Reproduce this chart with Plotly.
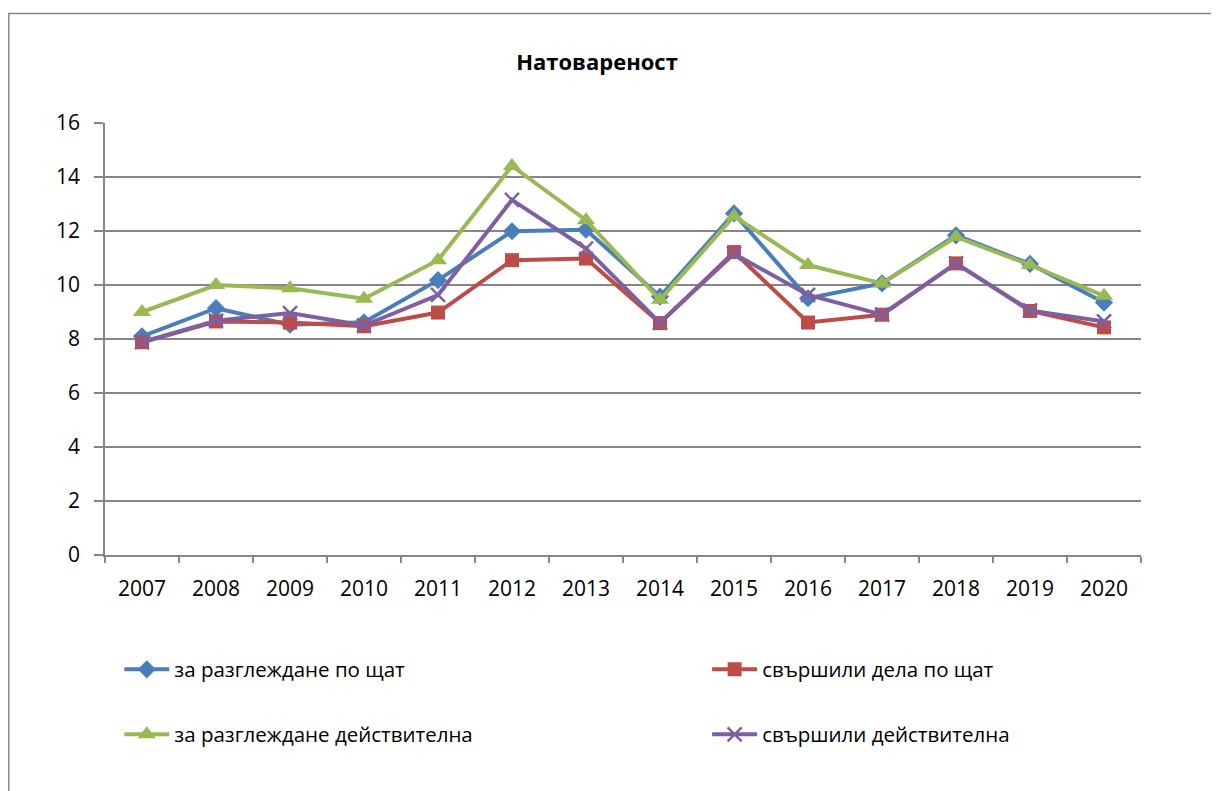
import plotly.graph_objects as go

years = ["2007", "2008", "2009", "2010", "2011", "2012", "2013",
         "2014", "2015", "2016", "2017", "2018", "2019", "2020"]

za_razgl_shtat = [8.10, 9.14, 8.53, 8.62, 10.18, 11.99, 12.05, 9.57, 12.65, 9.51, 10.06, 11.84, 10.78, 9.35]
svarshili_shtat = [7.88, 8.65, 8.61, 8.47, 8.98, 10.92, 10.98, 8.59, 11.22, 8.61, 8.90, 10.80, 9.04, 8.43]
za_razgl_deistv = [9.00, 10.00, 9.88, 9.49, 10.92, 14.41, 12.40, 9.45, 12.55, 10.74, 10.06, 11.78, 10.74, 9.60]
svarshili_deistv = [7.88, 8.68, 8.96, 8.50, 9.63, 13.15, 11.35, 8.60, 11.16, 9.63, 8.90, 10.80, 9.06, 8.65]

names = ["за разглеждане по щат", "свършили дела по щат",
         "за разглеждане действителна", "свършили действителна"]
colors = ["#4A7EBB", "#BE4B48", "#98B954", "#7D60A0"]
symbols = ["diamond", "square", "triangle-up", "x-thin"]
sizes = [14, 14, 16, 14]
series = [za_razgl_shtat, svarshili_shtat, za_razgl_deistv, svarshili_deistv]
legend_ids = ["legend", "legend2", "legend3", "legend4"]

# page offset (browser body margin)
OX, OY = 8, 8
W, H = 1219 - OX, 791 - OY
# plot area in page pixels
L, R, T, B = 104.7, 1141.0, 122.7, 555.3
pw, ph = R - L, B - T

def px2x(px):
    return (px - L) / pw

def py2y(py):
    return (B - py) / ph

font_family = "Open Sans"

fig = go.Figure()
for vals, name, col, sym, sz, lg in zip(series, names, colors, symbols, sizes, legend_ids):
    marker = dict(symbol=sym, size=sz, color=col)
    if sym == "x-thin":
        marker["line"] = dict(color=col, width=2.5)
    fig.add_trace(go.Scatter(
        x=years, y=vals, name=name, mode="lines+markers",
        line=dict(color=col, width=4),
        marker=marker, legend=lg,
    ))

legend_pos = {
    "legend": (119, 670),
    "legend2": (707, 670),
    "legend3": (119, 735),
    "legend4": (707, 735),
}
layout_legends = {}
for lg, (lx, ly) in legend_pos.items():
    layout_legends[lg] = dict(
        x=px2x(lx), y=py2y(ly), xanchor="left", yanchor="middle",
        font=dict(family=font_family, size=20.5, color="#000000"),
        bgcolor="rgba(0,0,0,0)", itemwidth=45, borderwidth=0,
    )

fig.update_layout(
    width=W, height=H,
    margin=dict(l=L - OX, r=1219 - R, t=T - OY, b=791 - B, pad=0),
    paper_bgcolor="white", plot_bgcolor="white",
    title=dict(text="<b>Натовареност</b>", x=(597 - OX) / W, xref="container", xanchor="center",
               y=1 - (62 - OY) / H, yref="container", yanchor="middle",
               font=dict(family=font_family, size=22, color="#000000")),
    font=dict(family=font_family, color="#000000"),
    showlegend=True,
    **layout_legends,
)

fig.update_xaxes(
    type="category", range=[-0.5, 13.5],
    showgrid=False, showline=True, linecolor="#868686", linewidth=1.5,
    ticks="outside", tickson="boundaries", ticklen=6, tickcolor="#868686", tickwidth=1.5,
    tickfont=dict(family=font_family, size=21, color="#000000"),
    ticklabelstandoff=14,
)
fig.update_yaxes(
    range=[0, 16], dtick=2, tick0=0,
    showgrid=True, gridcolor="#868686", gridwidth=1.5,
    showline=True, linecolor="#868686", linewidth=1.5,
    ticks="outside", ticklen=9, tickcolor="#868686", tickwidth=1.5,
    tickfont=dict(family=font_family, size=21, color="#000000"),
    ticklabelstandoff=10, zeroline=False,
)

fig.add_shape(type="rect", xref="paper", yref="paper",
              x0=px2x(8.5), x1=px2x(1240), y0=py2y(13), y1=py2y(820),
              line=dict(color="#868686", width=1.5), fillcolor="rgba(0,0,0,0)", layer="below")

fig.write_html("out.html")
